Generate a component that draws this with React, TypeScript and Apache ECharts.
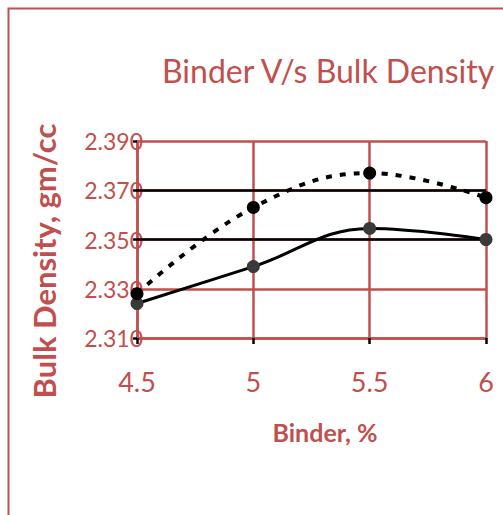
import React, { useEffect, useRef } from "react";
import * as echarts from "echarts";

const binder = [4.5, 5, 5.5, 6];
const densityDashed = [2.328, 2.363, 2.377, 2.367];
const densitySolid = [2.324, 2.339, 2.3545, 2.35];
const referenceLines = [2.37, 2.35];
const titleText = "Binder V/s Bulk Density";
const xName = "Binder, %";
const yName = "Bulk Density, gm/cc";

const RED = "#c0504d";
const FONT = "Lato, 'Open Sans', sans-serif";

export default function App() {
  const ref = useRef<HTMLDivElement>(null);
  useEffect(() => {
    if (!ref.current) return;
    const chart = echarts.init(ref.current, null, { renderer: "svg" });
    chart.setOption({
      animation: false,
      backgroundColor: "#ffffff",
      title: {
        text: titleText,
        left: 157,
        top: 49,
        textStyle: { color: RED, fontFamily: FONT, fontSize: 32, fontWeight: "normal" },
      },
      grid: { left: 137, right: 17, top: 141, bottom: 177, containLabel: false },
      xAxis: {
        type: "value",
        min: 4.5,
        max: 6,
        interval: 0.5,
        name: xName,
        nameLocation: "middle",
        nameGap: 81,
        nameTextStyle: {
          color: RED,
          fontFamily: FONT,
          fontSize: 25,
          fontWeight: "bold",
          padding: [0, 0, 0, 27],
        },
        axisLine: { show: true, lineStyle: { color: RED, width: 2.5 } },
        axisTick: { show: true, length: 6, lineStyle: { color: "#000", width: 2.5 } },
        axisLabel: {
          color: RED,
          fontFamily: FONT,
          fontSize: 27,
          margin: 30,
          formatter: (v: number) => String(v),
        },
        splitLine: { show: true, lineStyle: { color: RED, width: 2.5 } },
      },
      yAxis: {
        type: "value",
        min: 2.31,
        max: 2.39,
        interval: 0.02,
        axisLine: { show: true, lineStyle: { color: RED, width: 2.5 } },
        axisTick: { show: true, length: 4, lineStyle: { color: "#000", width: 2.5 } },
        axisLabel: {
          color: RED,
          fontFamily: FONT,
          fontSize: 23,
          margin: -6,
          formatter: (v: number) => v.toFixed(3),
        },
        splitLine: { show: true, lineStyle: { color: RED, width: 2.5 } },
      },
      graphic: [
        {
          type: "rect",
          shape: { x: 8.5, y: 8.5, width: 700, height: 700 },
          style: { fill: "none", stroke: RED, lineWidth: 2 },
          silent: true,
        },
        {
          type: "text",
          x: 44,
          y: 261,
          rotation: Math.PI / 2,
          style: {
            text: yName,
            fill: RED,
            font: `bold 31px ${FONT}`,
            align: "center",
            verticalAlign: "middle",
          },
        },
      ],
      series: [
        {
          type: "line",
          data: binder.map((x, i) => [x, densitySolid[i]]),
          smooth: 0.4,
          symbol: "circle",
          symbolSize: 13,
          itemStyle: { color: "#3a3a3a" },
          lineStyle: { color: "#000", width: 3 },
          z: 3,
          markLine: {
            silent: true,
            symbol: "none",
            label: { show: false },
            lineStyle: { color: "#000", width: 2.5, type: "solid" },
            data: referenceLines.map((v) => ({ yAxis: v })),
            z: 2,
          },
        },
        {
          type: "line",
          data: binder.map((x, i) => [x, densityDashed[i]]),
          smooth: 0.4,
          symbol: "circle",
          symbolSize: 13,
          itemStyle: { color: "#000" },
          lineStyle: { color: "#000", width: 4, type: [6, 8] },
          z: 4,
        },
      ],
    });
    return () => chart.dispose();
  }, []);
  return (
    <div
      ref={ref}
      style={{ position: "absolute", left: 0, top: 0, width: 503, height: 515 }}
    />
  );
}
